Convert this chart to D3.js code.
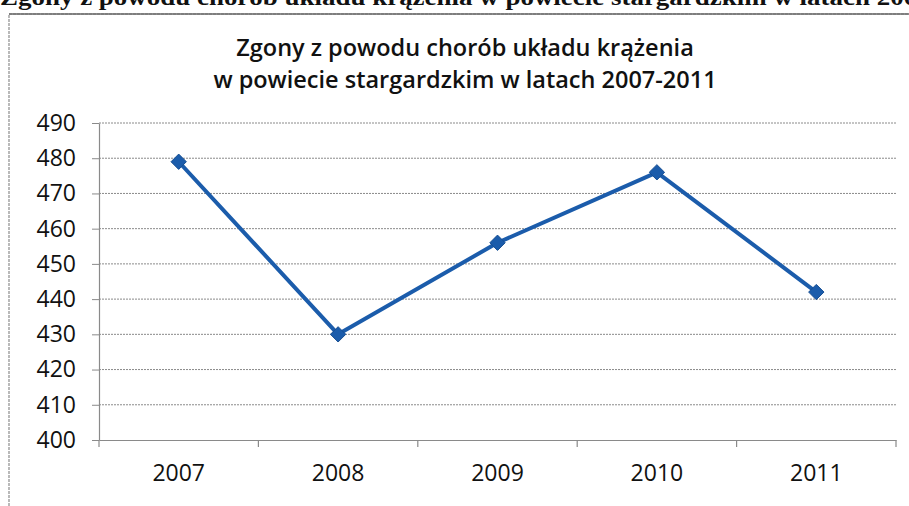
<!DOCTYPE html>
<html><head><meta charset="utf-8">
<script src="https://cdn.jsdelivr.net/npm/d3@7"></script>
<style>
html,body{margin:0;padding:0;background:#fff;}
svg{display:block;}
</style></head>
<body>
<svg id="chart" width="909" height="506"></svg>
<script>
const pageHeading = "Zgony z powodu chorób układu krążenia w powiecie stargardzkim w latach 2007-2011";
const titleLines = ["Zgony z powodu chorób układu krążenia", "w powiecie stargardzkim w latach 2007-2011"];
const years = ["2007", "2008", "2009", "2010", "2011"];
const deaths = [479, 430, 456, 476, 442];
const yTicks = [400, 410, 420, 430, 440, 450, 460, 470, 480, 490];

const svg = d3.select("#chart");
const m = {left: 99, right: 896, top: 123, bottom: 440};
const lineColor = "#1b5cab";
const labelFont = "'Open Sans', 'Liberation Sans', sans-serif";

// cut-off heading of the page (serif bold)
svg.append("text")
  .attr("x", 0).attr("y", 5)
  .attr("textLength", 992).attr("lengthAdjust", "spacingAndGlyphs")
  .style("font-family", "'Liberation Serif', 'DejaVu Serif', serif")
  .style("font-weight", "bold").style("font-size", "23px").style("fill", "#111")
  .text(pageHeading);

// chart frame
svg.append("rect")
  .attr("x", 9).attr("y", 14).attr("width", 940).attr("height", 540)
  .attr("fill", "none").attr("stroke", "#8c8c8c").attr("stroke-width", 1.2)
  .attr("stroke-dasharray", "3,1");
svg.append("line")
  .attr("x1", 9).attr("x2", 909).attr("y1", 14).attr("y2", 14)
  .attr("stroke", "#666").attr("stroke-width", 1.4);

// title
svg.append("g").selectAll("text").data(titleLines).join("text")
  .attr("x", 465).attr("y", (d, i) => 56 + i * 32)
  .attr("text-anchor", "middle")
  .style("font-family", labelFont).style("font-weight", 600)
  .style("font-size", "23.5px").style("fill", "#111")
  .text(d => d);

const x = d3.scaleBand().domain(years).range([m.left, m.right]);
const y = d3.scaleLinear().domain([400, 490]).range([m.bottom, m.top]);

// gridlines
svg.append("g").selectAll("line").data(yTicks.filter(t => t > 400)).join("line")
  .attr("x1", m.left).attr("x2", m.right)
  .attr("y1", d => y(d)).attr("y2", d => y(d))
  .attr("stroke", "#8a8a8a").attr("stroke-width", 1)
  .attr("stroke-dasharray", "2,1");

// y axis
const yAxis = svg.append("g").attr("transform", `translate(${m.left},0)`)
  .call(d3.axisLeft(y).tickValues(yTicks).tickSize(7).tickPadding(16).tickSizeOuter(0));
yAxis.select(".domain").attr("stroke", "#8a8a8a").attr("stroke-width", 1.2);
yAxis.selectAll(".tick line").attr("stroke", "#8a8a8a");
yAxis.selectAll("text").style("font-family", labelFont).style("font-size", "23px").style("fill", "#111");

// x axis
const xAxis = svg.append("g").attr("transform", `translate(0,${m.bottom})`)
  .call(d3.axisBottom(x).tickSize(0).tickPadding(25));
xAxis.select(".domain").attr("stroke", "#8a8a8a").attr("stroke-width", 1.2);
xAxis.selectAll("text").style("font-family", labelFont).style("font-size", "23px").style("fill", "#111");
// category boundary tick marks
const bounds = years.map(d => x(d)).concat([x(years[years.length - 1]) + x.bandwidth()]);
xAxis.append("g").selectAll("line").data(bounds).join("line")
  .attr("x1", d => d).attr("x2", d => d).attr("y1", 0).attr("y2", 7)
  .attr("stroke", "#8a8a8a").attr("stroke-width", 1.2);

// line
const cx = d => x(d) + x.bandwidth() / 2;
const pts = years.map((yr, i) => [cx(yr), y(deaths[i])]);
svg.append("path").datum(pts)
  .attr("d", d3.line())
  .attr("fill", "none").attr("stroke", lineColor).attr("stroke-width", 4)
  .attr("stroke-linejoin", "round");

// diamond markers
svg.append("g").selectAll("path").data(pts).join("path")
  .attr("transform", d => `translate(${d[0]},${d[1]})`)
  .attr("d", d3.symbol().type(d3.symbolDiamond2).size(150))
  .attr("fill", lineColor).attr("stroke", "#164e92").attr("stroke-width", 1);
</script>
</body></html>
